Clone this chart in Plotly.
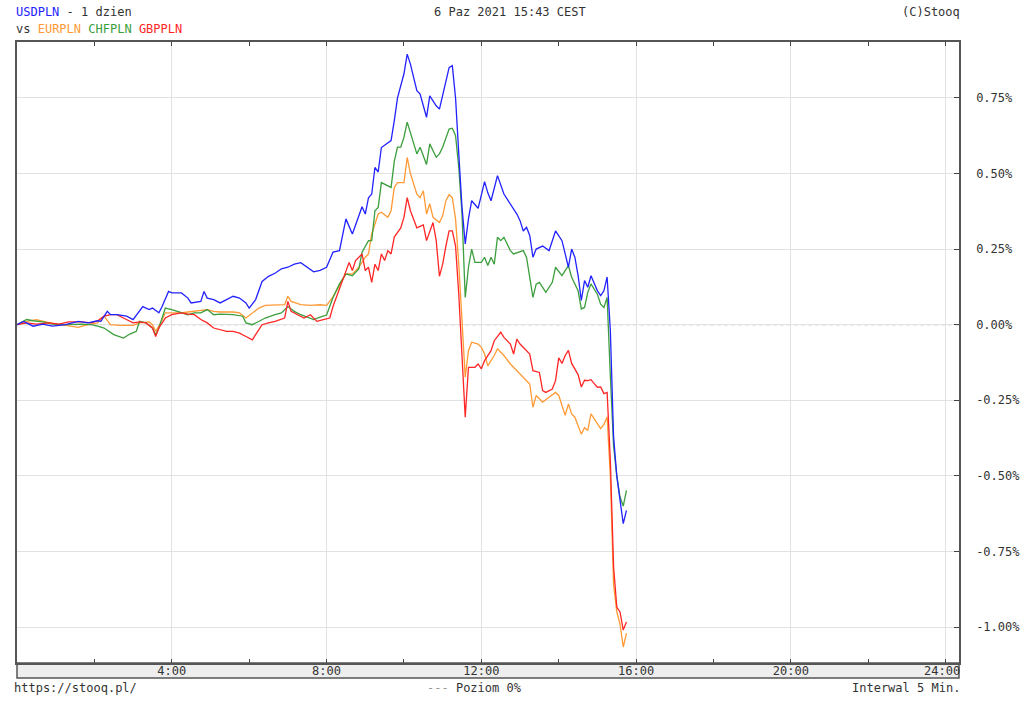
import plotly.graph_objects as go

# ---------------- data (minutes since 00:00, % change) ----------------
usd_t = [0,10,25,40,55,75,95,110,125,130,
         140,145,155,170,180,190,195,205,210,220,
         225,235,240,255,265,270,285,290,295,305,
         315,325,335,345,355,360,370,380,390,400,
         410,420,430,440,450,460,470,480,490,500,
         510,520,535,540,545,550,555,560,565,575,
         580,585,590,600,605,610,620,625,635,640,
         650,655,665,670,675,680,685,690,695,700,
         705,715,725,730,735,745,755,765,775,780,
         785,790,795,800,805,815,825,835,845,850,
         855,860,865,870,875,880,885,890,900,905,
         910,915,920,925,930,935,940,945]
usd_v = [0,0.011,-0.005,0.002,-0.005,0,0.011,0.006,0.013,0.011,
         0.044,0.033,0.033,0.028,0.017,0.044,0.06,0.05,0.055,0.039,
         0.06,0.11,0.105,0.105,0.088,0.072,0.077,0.11,0.088,0.083,
         0.072,0.083,0.094,0.088,0.072,0.055,0.083,0.143,0.16,0.17,
         0.185,0.19,0.20,0.205,0.19,0.175,0.18,0.19,0.24,0.245,
         0.35,0.30,0.39,0.366,0.42,0.432,0.52,0.505,0.586,0.60,
         0.609,0.675,0.75,0.83,0.895,0.862,0.774,0.763,0.686,0.757,
         0.724,0.713,0.807,0.85,0.857,0.75,0.565,0.388,0.267,0.35,
         0.41,0.385,0.473,0.436,0.41,0.493,0.432,0.40,0.366,0.344,
         0.31,0.322,0.295,0.223,0.25,0.26,0.245,0.31,0.278,0.234,
         0.19,0.25,0.223,0.162,0.08,0.146,0.124,0.162,0.112,0.096,
         0.112,0.158,-0.02,-0.37,-0.50,-0.58,-0.658,-0.614]

chf_t = [0,15,25,40,55,75,100,115,125,135,
         150,165,175,185,190,200,210,215,220,230,
         240,255,265,275,285,295,305,315,335,350,
         355,365,375,385,400,410,420,430,440,455,
         460,470,480,490,500,510,520,530,535,545,
         550,555,560,565,570,580,585,590,595,600,
         605,610,620,625,635,640,650,655,660,670,
         675,680,685,690,695,700,705,710,720,725,
         730,735,740,745,750,755,765,770,780,785,
         790,800,805,810,820,830,835,845,850,855,
         860,870,875,880,885,890,900,905,910,915,
         920,925,930,935,940,945]
chf_v = [0,0.017,0.013,0.009,0.002,0,0.002,0,-0.005,-0.011,
         -0.033,-0.044,-0.031,-0.022,0.011,0.006,-0.011,-0.033,-0.011,0.055,
         0.05,0.039,0.033,0.039,0.039,0.05,0.033,0.035,0.033,0.028,
         0.006,0,0.011,0.022,0.033,0.039,0.06,0.044,0.033,0.022,
         0.017,0.025,0.032,0.09,0.135,0.168,0.162,0.184,0.24,0.278,
         0.278,0.377,0.388,0.47,0.464,0.454,0.54,0.587,0.587,0.62,
         0.67,0.636,0.565,0.587,0.53,0.598,0.554,0.565,0.587,0.647,
         0.65,0.625,0.52,0.366,0.09,0.19,0.25,0.206,0.206,0.223,
         0.196,0.223,0.2,0.289,0.278,0.289,0.245,0.234,0.24,0.245,
         0.223,0.09,0.134,0.14,0.107,0.14,0.19,0.162,0.179,0.195,
         0.157,0.112,0.052,0.057,0.107,0.135,0.10,0.068,0.057,0.09,
         -0.17,-0.40,-0.50,-0.57,-0.60,-0.548]

eur_t = [0,15,30,45,60,75,95,110,125,135,
         145,160,180,190,205,210,215,220,230,240,
         255,265,275,285,295,305,315,335,345,355,
         365,375,385,405,415,420,425,440,455,470,
         480,490,500,510,520,530,540,545,550,555,
         560,565,575,580,585,590,600,605,610,620,
         625,630,635,640,645,655,660,665,670,675,
         680,685,690,695,700,705,715,720,725,730,
         735,740,745,755,765,775,785,795,800,805,
         810,815,825,835,840,845,850,855,860,865,
         875,880,885,890,900,905,910,915,920,925,
         930,935,940,945]
eur_v = [0,0.011,0.017,0.009,0.002,-0.002,-0.009,0,0.006,0.028,
         0,-0.002,-0.002,0.006,0.009,0,-0.022,-0.005,0.039,0.039,
         0.039,0.042,0.044,0.046,0.05,0.044,0.042,0.042,0.039,0.022,
         0.039,0.055,0.064,0.064,0.066,0.094,0.077,0.066,0.064,0.066,
         0.064,0.092,0.13,0.168,0.168,0.19,0.223,0.234,0.30,0.333,
         0.366,0.372,0.355,0.377,0.454,0.47,0.47,0.553,0.50,0.432,
         0.42,0.443,0.366,0.40,0.355,0.338,0.36,0.41,0.43,0.42,
         0.35,0.2,0.0,-0.174,-0.086,-0.058,-0.064,-0.075,-0.097,-0.136,
         -0.119,-0.102,-0.08,-0.102,-0.13,-0.152,-0.174,-0.196,-0.273,-0.234,
         -0.245,-0.256,-0.24,-0.224,-0.234,-0.27,-0.30,-0.262,-0.295,-0.306,
         -0.362,-0.34,-0.35,-0.295,-0.328,-0.344,-0.33,-0.305,-0.5,-0.86,
         -0.95,-0.99,-1.066,-1.02]

gbp_t = [0,15,30,50,65,80,100,115,125,135,
         145,155,165,180,190,200,210,215,220,230,
         240,255,265,275,285,295,305,315,325,335,
         345,355,365,370,380,390,400,415,420,425,
         435,445,455,465,475,485,490,500,515,520,
         525,535,540,545,550,555,560,565,570,575,
         580,585,595,600,605,610,620,630,635,645,
         650,655,660,665,670,675,680,685,690,695,
         700,710,715,720,725,735,740,750,755,765,
         770,775,780,790,795,800,810,815,820,830,
         835,840,845,850,855,860,870,875,880,885,
         890,895,900,905,910,915,920,925,930,935,
         940,945]
gbp_v = [0,0.006,0.002,0.006,0.002,0.009,0.009,0.006,0.013,0.028,
         0.033,0.033,0.022,0.006,0.009,0.006,-0.011,-0.039,-0.011,0.022,
         0.033,0.039,0.035,0.033,0.017,0.006,-0.011,-0.017,-0.022,-0.022,
         -0.028,-0.039,-0.05,-0.033,0,0.006,0.011,0.022,0.077,0.044,
         0.033,0.022,0.033,0.011,0.017,0.022,0.06,0.12,0.206,0.179,
         0.212,0.234,0.179,0.19,0.14,0.2,0.179,0.234,0.212,0.245,
         0.234,0.29,0.32,0.355,0.42,0.377,0.32,0.33,0.278,0.338,
         0.278,0.16,0.2,0.26,0.31,0.31,0.26,0.1,-0.1,-0.306,
         -0.141,-0.141,-0.13,-0.146,-0.119,-0.086,-0.053,-0.025,-0.042,-0.064,
         -0.097,-0.048,-0.064,-0.086,-0.097,-0.152,-0.158,-0.218,-0.224,-0.213,
         -0.185,-0.11,-0.128,-0.102,-0.085,-0.128,-0.165,-0.206,-0.184,-0.185,
         -0.182,-0.195,-0.207,-0.206,-0.228,-0.224,-0.45,-0.80,-0.934,-0.95,
         -1.01,-0.983]

series_names = ["USDPLN", "EURPLN", "CHFPLN", "GBPPLN"]
x_tick_vals = [240, 480, 720, 960, 1200, 1440]
x_tick_text = ["4:00", "8:00", "12:00", "16:00", "20:00", "24:00\u00a0"]
x_minor_vals = [120, 360, 600, 840, 1080, 1320]
y_tick_vals = [-1.0, -0.75, -0.5, -0.25, 0.0, 0.25, 0.5, 0.75]
y_tick_text = ["-1.00%", "-0.75%", "-0.50%", "-0.25%", "0.00%", "0.25%", "0.50%", "0.75%"]

# ---------------- styling ----------------
W, H = 1024, 711
PL, PR, PT, PB = 17, 959, 42, 663   # plot box in pixels
ML, MT = PL, PT
MR, MB = W - PR, H - PB
PH = PB - PT
PW = PR - PL
FONT = "DejaVu Sans Mono"
TXT = "#333333"
colors = {"USDPLN": "#2222ff", "EURPLN": "#ff9a35", "CHFPLN": "#3c9e3c", "GBPPLN": "#ff2626"}

def px_y(py):
    return (PB - py) / PH

def px_x(px):
    return (px - PL) / PW

fig = go.Figure()
data = {"USDPLN": (usd_t, usd_v), "EURPLN": (eur_t, eur_v),
        "CHFPLN": (chf_t, chf_v), "GBPPLN": (gbp_t, gbp_v)}
for name in ["EURPLN", "CHFPLN", "GBPPLN", "USDPLN"]:
    t, v = data[name]
    fig.add_trace(go.Scatter(x=t, y=v, mode="lines", name=name,
                             line=dict(color=colors[name], width=1.3),
                             hoverinfo="skip", showlegend=False))

fig.update_layout(
    width=W, height=H,
    margin=dict(l=ML, r=MR, t=MT, b=MB, pad=0, autoexpand=False),
    paper_bgcolor="white", plot_bgcolor="white",
    font=dict(family=FONT, size=12, color=TXT),
    xaxis=dict(range=[0, 1460.6], tickvals=x_tick_vals, ticktext=x_tick_text,
               ticks="inside", ticklen=4, tickcolor="#444", tickwidth=1,
               showgrid=True, gridcolor="#e2e2e2", gridwidth=1,
               showline=True, linecolor="#555", linewidth=1.5, mirror="ticks",
               zeroline=False, fixedrange=True, automargin=False,
               minor=dict(tickvals=x_minor_vals, ticks="inside", ticklen=4,
                          tickcolor="#444", showgrid=False),
               tickfont=dict(family=FONT, size=12, color=TXT),
               ticklabelstandoff=-4),
    yaxis=dict(range=[-1.119, 0.935], side="right", tickvals=y_tick_vals,
               ticktext=y_tick_text, ticks="inside", ticklen=5, tickcolor="#444",
               showgrid=True, gridcolor="#e2e2e2", gridwidth=1,
               showline=True, linecolor="#555", linewidth=1.5, mirror=True,
               zeroline=False, fixedrange=True, automargin=False,
               tickfont=dict(family=FONT, size=12, color=TXT),
               ticklabelstandoff=13),
)

# bottom gray band under x axis
fig.add_shape(type="rect", xref="paper", yref="paper", x0=0, x1=1,
              y0=-15 / PH, y1=0, fillcolor="#eeeeee",
              line=dict(color="#555", width=1.5), layer="below")
# zero level line (Poziom 0%)
fig.add_shape(type="line", xref="paper", yref="y", x0=0, x1=1, y0=0, y1=0,
              line=dict(color="white", width=1.5), layer="between")
fig.add_shape(type="line", xref="paper", yref="y", x0=0, x1=1, y0=0, y1=0,
              line=dict(color="#999999", width=1, dash="4px,3px"), layer="between")

def ann(text, x, y, xanchor="left", size=12):
    fig.add_annotation(text=text, xref="paper", yref="paper", x=x, y=y,
                       xanchor=xanchor, yanchor="middle", showarrow=False,
                       font=dict(family=FONT, size=size, color=TXT), borderpad=0)

ann(f"<span style='color:{colors['USDPLN']}'>USDPLN</span> - 1 dzien", px_x(15), px_y(12))
ann("vs "
    f"<span style='color:{colors['EURPLN']}'>EURPLN</span> "
    f"<span style='color:{colors['CHFPLN']}'>CHFPLN</span> "
    f"<span style='color:{colors['GBPPLN']}'>GBPPLN</span>", px_x(15), px_y(29))
ann("6 Paz 2021 15:43 CEST", px_x(433), px_y(12))
ann("(C)Stooq", px_x(961), px_y(12), xanchor="right")
ann("https://stooq.pl/", px_x(13), px_y(688))
ann("<span style='color:#999999'>---</span> Poziom 0%", px_x(426), px_y(688))
ann("Interwal 5 Min.", px_x(961), px_y(688), xanchor="right")

fig.write_html("out.html", config={"displayModeBar": False},
               post_script="document.body.style.margin='0px';document.body.style.overflow='hidden';")
